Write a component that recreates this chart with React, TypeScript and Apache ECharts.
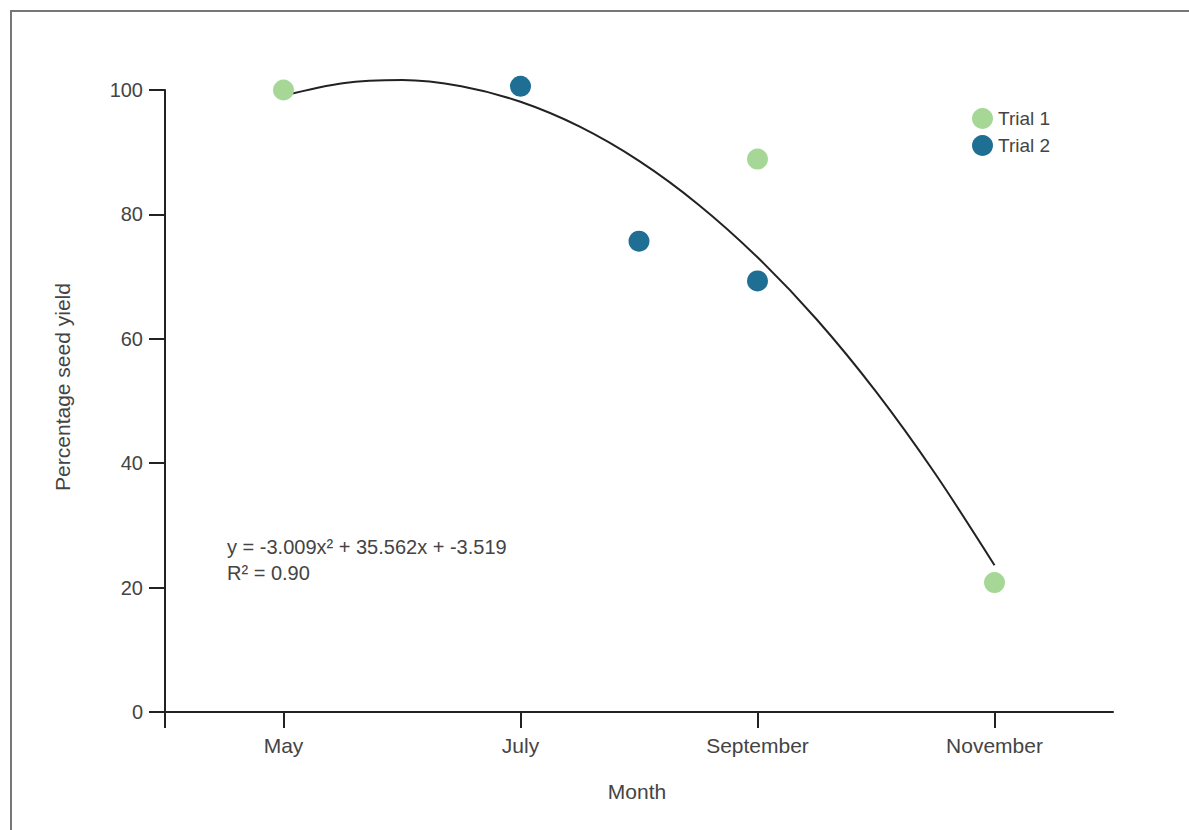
import React, { useEffect, useRef } from "react";
import * as echarts from "echarts";

// Month numbers (May = 5 ... November = 11)
const monthTicks = [5, 7, 9, 11];
const monthNames: Record<number, string> = { 5: "May", 7: "July", 9: "September", 11: "November" };

const trial1Months = [5, 9, 11];
const trial1Yield = [100, 88.9, 20.8];

const trial2Months = [7, 8, 9];
const trial2Yield = [100.6, 75.7, 69.3];

// Quadratic trend line
const trendMonths = [5, 5.5, 6, 6.5, 7, 7.5, 8, 8.5, 9, 9.5, 10, 10.5, 11];
const trendYield = [99.1, 101.1, 101.6, 100.6, 98.1, 94.1, 88.6, 81.6, 73.1, 63.1, 51.5, 38.3, 23.6];

const yTicks = [0, 20, 40, 60, 80, 100];

const FONT = "'Liberation Sans', Arial, Helvetica, sans-serif";
const TEXT = "#444";
const AXIS = "#222";
const GREEN = "#a6d796";
const BLUE = "#1f6f95";

export default function App() {
  const ref = useRef<HTMLDivElement>(null);

  useEffect(() => {
    if (!ref.current) return;
    const chart = echarts.init(ref.current, undefined, { renderer: "svg" });
    chart.setOption({
      animation: false,
      backgroundColor: "#fff",
      textStyle: { fontFamily: FONT },
      grid: { left: 165, right: 76, top: 90, bottom: 118, containLabel: false },
      legend: {
        data: ["Trial 1", "Trial 2"],
        orient: "vertical",
        left: 967,
        top: 103,
        itemWidth: 21,
        itemHeight: 21,
        itemGap: 6,
        icon: "circle",
        textStyle: { fontFamily: FONT, fontSize: 19, color: TEXT },
      },
      xAxis: {
        type: "value",
        min: 4,
        max: 12,
        interval: 1,
        splitLine: { show: false },
        axisLine: { onZero: false, lineStyle: { color: AXIS, width: 2 } },
        axisTick: {
          show: true,
          length: 16,
          lineStyle: { color: AXIS, width: 2 },
          customValues: [4, ...monthTicks],
        },
        axisLabel: {
          customValues: monthTicks,
          formatter: (v: number) => monthNames[v] ?? "",
          margin: 23,
          fontSize: 21,
          color: TEXT,
          fontFamily: FONT,
        },
      },
      yAxis: {
        type: "value",
        min: 0,
        max: 100,
        interval: 20,
        splitLine: { show: false },
        axisLine: { show: true, lineStyle: { color: AXIS, width: 2 } },
        axisTick: { show: true, length: 16, lineStyle: { color: AXIS, width: 2 } },
        axisLabel: {
          customValues: yTicks,
          margin: 22,
          fontSize: 20,
          color: TEXT,
          fontFamily: FONT,
        },
      },
      graphic: [
        {
          type: "rect",
          shape: { x: 11, y: 11, width: 1400, height: 1000 },
          style: { fill: "none", stroke: "#777", lineWidth: 2 },
          silent: true,
          z: -10,
        },
        {
          type: "text",
          x: 227,
          y: 534,
          style: {
            text: "y = -3.009x² + 35.562x + -3.519\nR² = 0.90",
            fontFamily: FONT,
            fontSize: 20,
            lineHeight: 26,
            fill: TEXT,
            verticalAlign: "top",
          },
        },
        {
          type: "text",
          x: 637,
          y: 791,
          style: { text: "Month", fontFamily: FONT, fontSize: 21, fill: TEXT, align: "center", verticalAlign: "middle" },
        },
        {
          type: "text",
          x: 62,
          y: 387,
          rotation: Math.PI / 2,
          style: {
            text: "Percentage seed yield",
            fontFamily: FONT,
            fontSize: 21,
            fill: TEXT,
            align: "center",
            verticalAlign: "middle",
          },
        },
      ],
      series: [
        {
          name: "Trend",
          type: "line",
          data: trendMonths.map((m, i) => [m, trendYield[i]]),
          showSymbol: false,
          smooth: 0.3,
          clip: false,
          lineStyle: { color: "#222", width: 2 },
          z: 1,
          silent: true,
        },
        {
          name: "Trial 1",
          type: "scatter",
          data: trial1Months.map((m, i) => [m, trial1Yield[i]]),
          symbol: "circle",
          symbolSize: 21,
          clip: false,
          itemStyle: { color: GREEN, opacity: 1 },
          z: 3,
        },
        {
          name: "Trial 2",
          type: "scatter",
          data: trial2Months.map((m, i) => [m, trial2Yield[i]]),
          symbol: "circle",
          symbolSize: 21,
          clip: false,
          itemStyle: { color: BLUE, opacity: 1 },
          z: 3,
        },
      ],
    });
    return () => chart.dispose();
  }, []);

  return (
    <div
      ref={ref}
      style={{ position: "fixed", left: 0, top: 0, width: 1189, height: 830, background: "#fff" }}
    />
  );
}
